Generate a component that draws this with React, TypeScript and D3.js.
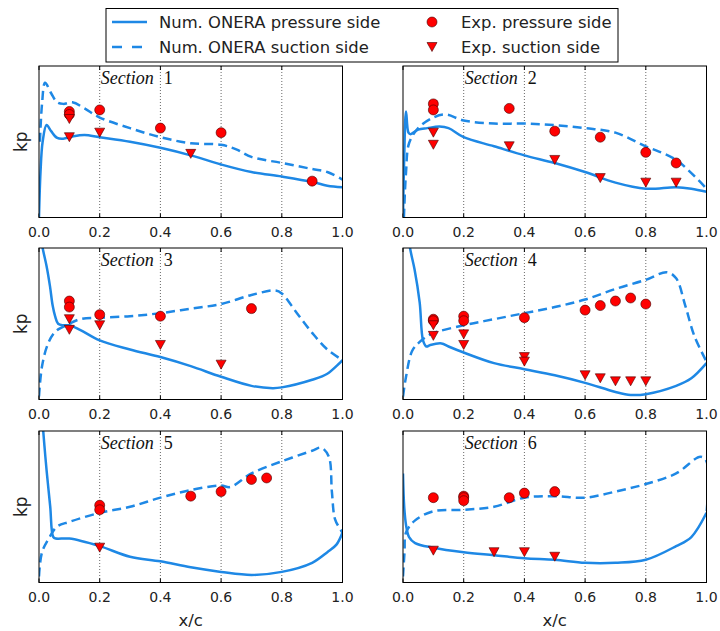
import { useEffect, useRef } from "react";
import * as d3 from "d3";

type Pt = [number, number];

// x/c ticks and grid positions
const xTicks = [0, 0.2, 0.4, 0.6, 0.8, 1.0];
const gridTicks = [0.2, 0.4, 0.6, 0.8];
const sectionLabels = ["1", "2", "3", "4", "5", "6"];
const legendLabels = [
  "Num. ONERA pressure side",
  "Num. ONERA suction side",
  "Exp. pressure side",
  "Exp. suction side",
];

// kp is shown without tick labels, values below are relative (0 = bottom, 1 = top of frame)
const s1NumPressure: Pt[] = [[0, 0], [0.005, 0.3], [0.012, 0.5], [0.025, 0.61], [0.04, 0.57], [0.06, 0.525], [0.08, 0.52], [0.11, 0.535], [0.15, 0.545], [0.2, 0.53], [0.3, 0.5], [0.4, 0.46], [0.5, 0.41], [0.6, 0.35], [0.7, 0.3], [0.8, 0.27], [0.9, 0.235], [0.95, 0.21], [1.0, 0.2]];
const s1NumSuction: Pt[] = [[0.003, 0.5], [0.01, 0.75], [0.02, 0.89], [0.04, 0.82], [0.06, 0.76], [0.08, 0.75], [0.11, 0.76], [0.15, 0.72], [0.2, 0.66], [0.3, 0.59], [0.4, 0.53], [0.5, 0.49], [0.6, 0.48], [0.65, 0.45], [0.7, 0.4], [0.8, 0.36], [0.9, 0.32], [0.95, 0.3], [1.0, 0.25]];
const s1ExpPressure: Pt[] = [[0.1, 0.7], [0.1, 0.68], [0.2, 0.71], [0.4, 0.59], [0.6, 0.56], [0.9, 0.24]];
const s1ExpSuction: Pt[] = [[0.1, 0.65], [0.1, 0.53], [0.2, 0.56], [0.5, 0.42]];

const s2NumPressure: Pt[] = [[0, 0], [0.004, 0.4], [0.01, 0.7], [0.018, 0.56], [0.025, 0.55], [0.05, 0.58], [0.08, 0.59], [0.12, 0.6], [0.15, 0.59], [0.2, 0.53], [0.3, 0.47], [0.4, 0.41], [0.5, 0.36], [0.6, 0.3], [0.7, 0.23], [0.8, 0.19], [0.9, 0.2], [0.95, 0.19], [1.0, 0.17]];
const s2NumSuction: Pt[] = [[0.003, 0], [0.01, 0.3], [0.02, 0.49], [0.05, 0.59], [0.1, 0.66], [0.14, 0.68], [0.2, 0.64], [0.3, 0.62], [0.4, 0.62], [0.5, 0.61], [0.6, 0.59], [0.7, 0.56], [0.8, 0.47], [0.9, 0.38], [1.0, 0.19]];
const s2ExpPressure: Pt[] = [[0.1, 0.75], [0.1, 0.71], [0.35, 0.72], [0.5, 0.57], [0.65, 0.53], [0.8, 0.43], [0.9, 0.36]];
const s2ExpSuction: Pt[] = [[0.1, 0.56], [0.1, 0.48], [0.35, 0.47], [0.5, 0.38], [0.65, 0.26], [0.8, 0.23], [0.9, 0.23]];

const s3NumPressure: Pt[] = [[0.002, 1.1], [0.014, 0.98], [0.025, 0.88], [0.036, 0.75], [0.045, 0.62], [0.053, 0.55], [0.063, 0.5], [0.08, 0.49], [0.1, 0.49], [0.135, 0.46], [0.2, 0.39], [0.3, 0.33], [0.4, 0.28], [0.5, 0.22], [0.6, 0.15], [0.7, 0.09], [0.77, 0.075], [0.8, 0.08], [0.9, 0.13], [0.95, 0.17], [1.0, 0.26]];
const s3NumSuction: Pt[] = [[0, 0.02], [0.01, 0.22], [0.03, 0.37], [0.055, 0.45], [0.09, 0.49], [0.135, 0.53], [0.2, 0.54], [0.3, 0.55], [0.4, 0.57], [0.5, 0.6], [0.6, 0.63], [0.7, 0.69], [0.78, 0.72], [0.8, 0.7], [0.85, 0.57], [0.9, 0.44], [0.95, 0.33], [1.0, 0.26]];
const s3ExpPressure: Pt[] = [[0.1, 0.65], [0.1, 0.61], [0.2, 0.56], [0.4, 0.55], [0.7, 0.6]];
const s3ExpSuction: Pt[] = [[0.1, 0.53], [0.1, 0.46], [0.2, 0.49], [0.4, 0.36], [0.6, 0.23]];

const s4NumPressure: Pt[] = [[0.015, 1.1], [0.025, 0.98], [0.038, 0.86], [0.055, 0.64], [0.066, 0.39], [0.077, 0.35], [0.09, 0.36], [0.127, 0.37], [0.15, 0.35], [0.2, 0.31], [0.3, 0.24], [0.4, 0.2], [0.5, 0.16], [0.6, 0.11], [0.7, 0.05], [0.75, 0.03], [0.8, 0.035], [0.9, 0.09], [0.95, 0.14], [1.0, 0.24]];
const s4NumSuction: Pt[] = [[0, 0.02], [0.01, 0.15], [0.03, 0.32], [0.055, 0.38], [0.09, 0.43], [0.2, 0.49], [0.3, 0.53], [0.4, 0.57], [0.5, 0.61], [0.6, 0.66], [0.7, 0.73], [0.8, 0.79], [0.87, 0.84], [0.9, 0.8], [0.93, 0.62], [0.96, 0.42], [1.0, 0.25]];
const s4ExpPressure: Pt[] = [[0.1, 0.53], [0.1, 0.52], [0.2, 0.55], [0.2, 0.52], [0.4, 0.54], [0.6, 0.59], [0.65, 0.62], [0.7, 0.65], [0.75, 0.67], [0.8, 0.63]];
const s4ExpSuction: Pt[] = [[0.1, 0.49], [0.1, 0.42], [0.2, 0.43], [0.2, 0.36], [0.4, 0.28], [0.4, 0.25], [0.6, 0.16], [0.65, 0.14], [0.7, 0.12], [0.75, 0.12], [0.8, 0.12]];

const s5NumPressure: Pt[] = [[0.01, 1.1], [0.018, 0.9], [0.025, 0.74], [0.037, 0.5], [0.047, 0.3], [0.056, 0.29], [0.1, 0.29], [0.2, 0.24], [0.3, 0.17], [0.4, 0.14], [0.5, 0.1], [0.6, 0.07], [0.7, 0.05], [0.8, 0.07], [0.9, 0.13], [0.95, 0.2], [0.98, 0.25], [1.0, 0.33]];
const s5NumSuction: Pt[] = [[0, 0.04], [0.01, 0.2], [0.035, 0.3], [0.06, 0.37], [0.1, 0.4], [0.2, 0.46], [0.3, 0.5], [0.4, 0.56], [0.5, 0.61], [0.6, 0.64], [0.63, 0.63], [0.7, 0.72], [0.8, 0.8], [0.9, 0.87], [0.93, 0.89], [0.955, 0.83], [0.965, 0.6], [0.975, 0.42], [0.99, 0.36], [1.0, 0.33]];
const s5ExpPressure: Pt[] = [[0.2, 0.51], [0.2, 0.48], [0.5, 0.57], [0.6, 0.6], [0.7, 0.68], [0.75, 0.69]];
const s5ExpSuction: Pt[] = [[0.2, 0.23]];

const s6NumPressure: Pt[] = [[0, 0.72], [0.004, 0.5], [0.01, 0.38], [0.02, 0.3], [0.04, 0.26], [0.1, 0.23], [0.2, 0.2], [0.3, 0.18], [0.4, 0.16], [0.5, 0.15], [0.6, 0.13], [0.7, 0.13], [0.8, 0.15], [0.9, 0.24], [0.95, 0.3], [1.0, 0.46]];
const s6NumSuction: Pt[] = [[0, 0.04], [0.005, 0.2], [0.01, 0.33], [0.04, 0.41], [0.1, 0.47], [0.2, 0.48], [0.3, 0.5], [0.4, 0.56], [0.5, 0.57], [0.6, 0.56], [0.7, 0.6], [0.8, 0.65], [0.9, 0.72], [0.98, 0.83], [1.0, 0.8], [1.0, 0.45]];
const s6ExpPressure: Pt[] = [[0.1, 0.56], [0.2, 0.57], [0.2, 0.56], [0.2, 0.54], [0.35, 0.56], [0.4, 0.59], [0.5, 0.6]];
const s6ExpSuction: Pt[] = [[0.1, 0.21], [0.3, 0.2], [0.4, 0.2], [0.5, 0.17]];

const numPressure = [s1NumPressure, s2NumPressure, s3NumPressure, s4NumPressure, s5NumPressure, s6NumPressure];
const numSuction = [s1NumSuction, s2NumSuction, s3NumSuction, s4NumSuction, s5NumSuction, s6NumSuction];
const expPressure = [s1ExpPressure, s2ExpPressure, s3ExpPressure, s4ExpPressure, s5ExpPressure, s6ExpPressure];
const expSuction = [s1ExpSuction, s2ExpSuction, s3ExpSuction, s4ExpSuction, s5ExpSuction, s6ExpSuction];

const BLUE = "#1e88e5";
const RED = "#ff0000";
const SANS = "'DejaVu Sans', sans-serif";
const triPath = "M-5,-4.5L5,-4.5L0,4.5Z";

const App = () => {
  const svgRef = useRef<SVGSVGElement>(null);

  useEffect(() => {
    document.body.style.margin = "0";
    const svg = d3.select(svgRef.current);
    svg.selectAll("*").remove();

    const colLeft = [39, 403];
    const rowTop = [66, 248, 431];
    const pw = 303.5;
    const ph = 151.5;

    sectionLabels.forEach((label, i) => {
      const col = i % 2;
      const row = Math.floor(i / 2);
      const x = d3.scaleLinear().domain([0, 1]).range([0, pw]);
      const y = d3.scaleLinear().domain([0, 1]).range([ph, 0]);

      const g = svg.append("g").attr("transform", `translate(${colLeft[col]},${rowTop[row]})`);
      const clipId = `clip-${i}`;
      svg.append("defs").append("clipPath").attr("id", clipId)
        .append("rect").attr("width", pw).attr("height", ph);

      // dotted vertical grid
      g.selectAll(".grid").data(gridTicks).enter().append("line")
        .attr("x1", (d) => x(d)).attr("x2", (d) => x(d))
        .attr("y1", 0).attr("y2", ph)
        .attr("stroke", "#000").attr("stroke-width", 0.6)
        .attr("stroke-dasharray", "1,2");

      // ticks inside, bottom and top
      g.selectAll(".tb").data(xTicks).enter().append("line")
        .attr("x1", (d) => x(d)).attr("x2", (d) => x(d))
        .attr("y1", ph).attr("y2", ph - 4).attr("stroke", "#000");
      g.selectAll(".tt").data(xTicks).enter().append("line")
        .attr("x1", (d) => x(d)).attr("x2", (d) => x(d))
        .attr("y1", 0).attr("y2", 4).attr("stroke", "#000");

      // section title
      const title = g.append("text")
        .attr("x", x(0.2) + 1).attr("y", 18)
        .style("font-family", "'Liberation Serif', serif")
        .style("font-size", "18px").attr("fill", "#111");
      title.append("tspan").style("font-style", "italic").text("Section");
      title.append("tspan").attr("dx", 10).text(label);

      const plot = g.append("g").attr("clip-path", `url(#${clipId})`);
      const line = d3.line<Pt>()
        .x((d) => x(d[0])).y((d) => y(d[1]))
        .curve(d3.curveCatmullRom.alpha(0.5));

      plot.append("path").datum(numPressure[i])
        .attr("d", line).attr("fill", "none")
        .attr("stroke", BLUE).attr("stroke-width", 2.5);
      plot.append("path").datum(numSuction[i])
        .attr("d", line).attr("fill", "none")
        .attr("stroke", BLUE).attr("stroke-width", 2.5)
        .attr("stroke-dasharray", "9,5");

      plot.selectAll(".expP").data(expPressure[i]).enter().append("circle")
        .attr("cx", (d) => x(d[0])).attr("cy", (d) => y(d[1]))
        .attr("r", 5).attr("fill", RED)
        .attr("stroke", "#400").attr("stroke-width", 0.6);
      plot.selectAll(".expS").data(expSuction[i]).enter().append("path")
        .attr("transform", (d) => `translate(${x(d[0])},${y(d[1])})`)
        .attr("d", triPath).attr("fill", RED)
        .attr("stroke", "#400").attr("stroke-width", 0.6);

      // frame
      g.append("rect").attr("width", pw).attr("height", ph)
        .attr("fill", "none").attr("stroke", "#000").attr("stroke-width", 1);

      // tick labels
      g.selectAll(".tl").data(xTicks).enter().append("text")
        .attr("x", (d) => x(d)).attr("y", ph + 19)
        .attr("text-anchor", "middle")
        .style("font-family", SANS).style("font-size", "14px")
        .attr("fill", "#222")
        .text((d) => d3.format(".1f")(d));

      if (col === 0) {
        g.append("text")
          .attr("transform", `translate(${-12},${ph / 2}) rotate(-90)`)
          .attr("text-anchor", "middle")
          .style("font-family", SANS).style("font-size", "17px")
          .attr("fill", "#222").text("kp");
      }
      if (row === 2) {
        g.append("text")
          .attr("x", pw / 2).attr("y", ph + 43)
          .attr("text-anchor", "middle")
          .style("font-family", SANS).style("font-size", "16.5px")
          .attr("fill", "#222").text("x/c");
      }
    });

    // legend
    const lg = svg.append("g");
    lg.append("rect").attr("x", 106).attr("y", 8.5).attr("width", 512).attr("height", 53.5)
      .attr("fill", "#fff").attr("stroke", "#000").attr("stroke-width", 1);
    const rowsY = [22, 47];
    lg.append("line").attr("x1", 112).attr("x2", 147).attr("y1", rowsY[0]).attr("y2", rowsY[0])
      .attr("stroke", BLUE).attr("stroke-width", 2.5);
    lg.append("line").attr("x1", 112).attr("x2", 147).attr("y1", rowsY[1]).attr("y2", rowsY[1])
      .attr("stroke", BLUE).attr("stroke-width", 2.5).attr("stroke-dasharray", "10,10");
    lg.append("circle").attr("cx", 432).attr("cy", rowsY[0]).attr("r", 5)
      .attr("fill", RED).attr("stroke", "#400").attr("stroke-width", 0.6);
    lg.append("path").attr("transform", `translate(432,${rowsY[1]})`).attr("d", triPath)
      .attr("fill", RED).attr("stroke", "#400").attr("stroke-width", 0.6);
    const lx = [159, 159, 461, 461];
    const ly = [rowsY[0], rowsY[1], rowsY[0], rowsY[1]];
    legendLabels.forEach((t, k) => {
      lg.append("text").attr("x", lx[k]).attr("y", ly[k] + 6)
        .style("font-family", SANS).style("font-size", "16.4px")
        .attr("fill", "#222").text(t);
    });
  }, []);

  return <svg ref={svgRef} width={720} height={631} style={{ display: "block", background: "#fff" }} />;
};

export default App;
